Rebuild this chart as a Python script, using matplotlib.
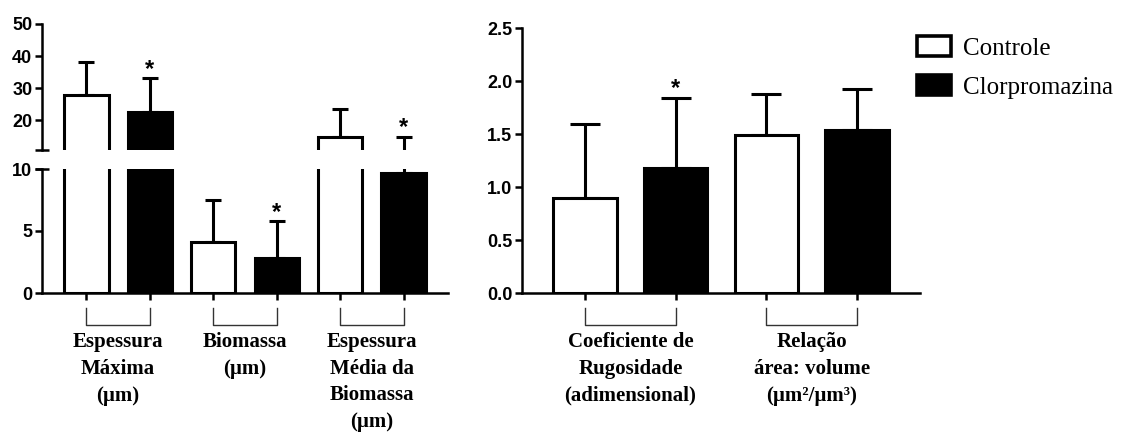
import numpy as np
import matplotlib.pyplot as plt
from matplotlib.patches import Patch
from matplotlib.transforms import blended_transform_factory

# Left panel: thickness / biomass (broken y axis)
left_groups = ["Espessura\nMáxima\n(µm)", "Biomassa\n(µm)", "Espessura\nMédia da\nBiomassa\n(µm)"]
left_controle = [27.8, 4.1, 14.6]
left_controle_sd = [10.2, 3.4, 8.8]
left_clor = [22.5, 2.8, 9.7]
left_clor_sd = [10.6, 3.0, 5.1]
left_star = [True, True, True]

# Right panel: roughness and area/volume ratio
right_groups = ["Coeficiente de\nRugosidade\n(adimensional)", "Relação\nárea: volume\n(µm²/µm³)"]
right_controle = [0.90, 1.49]
right_controle_sd = [0.70, 0.39]
right_clor = [1.185, 1.54]
right_clor_sd = [0.66, 0.385]
right_star = [True, False]

legend_labels = ["Controle", "Clorpromazina"]

LW = 2.2
W, H = 1131, 432

fig = plt.figure(figsize=(W / 100, H / 100), dpi=100)


def fig_box(x0, y0, x1, y1):
    # pixel box (top-left origin) -> figure fraction rect
    return [x0 / W, 1 - y1 / H, (x1 - x0) / W, (y1 - y0) / H]


ax_lo = fig.add_axes(fig_box(42, 169, 448, 293))
ax_hi = fig.add_axes(fig_box(42, 24, 448, 149.5))
ax_r = fig.add_axes(fig_box(522, 28.3, 920, 293.3))

tick_font = dict(family="Liberation Sans", weight="bold", size=13)
label_font = dict(family="Liberation Serif", weight="bold", size=15)


def draw_bars(ax, ctrl, ctrl_sd, clor, clor_sd, capsize):
    n = len(ctrl)
    xc = np.arange(n) * 2
    xk = xc + 1
    ax.bar(xc, ctrl, width=0.7, color="white", edgecolor="black", linewidth=LW, zorder=2)
    ax.bar(xk, clor, width=0.7, color="black", edgecolor="black", linewidth=LW, zorder=2)
    ax.errorbar(xc, ctrl, yerr=[np.zeros(n), ctrl_sd], fmt="none", ecolor="black",
                elinewidth=LW, capsize=capsize, capthick=LW, zorder=1)
    ax.errorbar(xk, clor, yerr=[np.zeros(n), clor_sd], fmt="none", ecolor="black",
                elinewidth=LW, capsize=capsize, capthick=LW, zorder=1)
    return xc, xk


def style_axis(ax):
    for s in ["top", "right"]:
        ax.spines[s].set_visible(False)
    for s in ["left", "bottom"]:
        ax.spines[s].set_linewidth(1.8)
    ax.tick_params(axis="both", direction="out", length=5, width=1.8, pad=2)
    for lab in ax.get_yticklabels():
        lab.set_fontproperties(tick_font)


def add_stars(ax, xs, tops, flags):
    for x, t, f in zip(xs, tops, flags):
        if f:
            ax.annotate("*", (x, t), xytext=(0, -2), textcoords="offset points",
                        ha="center", va="bottom", fontsize=17, fontweight="bold",
                        family="Liberation Sans")


def add_brackets(ax, xs_c, xs_k, labels):
    tr = blended_transform_factory(ax.transData, fig.transFigure)
    y_top, y_bot = 1 - 308 / H, 1 - 325 / H
    for a, b, lab in zip(xs_c, xs_k, labels):
        ax.plot([a, a, b, b], [y_top, y_bot, y_bot, y_top], color="#333333",
                lw=1.0, transform=tr, clip_on=False)
        ax.text((a + b) / 2, 1 - 332 / H, lab, transform=tr, ha="center", va="top",
                linespacing=1.45, **label_font)


# left panel, lower and upper segments share the same bars
for ax in (ax_lo, ax_hi):
    xc, xk = draw_bars(ax, left_controle, left_controle_sd, left_clor, left_clor_sd, 6)
    ax.set_xlim(-0.7, 5.7)

ax_lo.set_ylim(0, 10)
ax_lo.set_yticks([0, 5, 10])
ax_lo.set_xticks(np.sort(np.concatenate([xc, xk])))
ax_lo.set_xticklabels([])
style_axis(ax_lo)

ax_hi.set_ylim(10.8, 50)
ax_hi.set_yticks([20, 30, 40, 50])
ax_hi.set_xticks([])
style_axis(ax_hi)
ax_hi.spines["bottom"].set_visible(False)

# small caps on both sides of the axis break
for ax, yv in ((ax_lo, 10), (ax_hi, 10.8)):
    tr = blended_transform_factory(ax.transAxes, ax.transData)
    ax.plot([0], [yv], marker="_", markersize=10, mew=1.8, color="black",
            transform=tr, clip_on=False)

left_tops_k = np.array(left_clor) + np.array(left_clor_sd)
for x, t, f in zip(xk, left_tops_k, left_star):
    add_stars(ax_hi if t > 10.8 else ax_lo, [x], [t], [f])

add_brackets(ax_lo, xc, xk, left_groups)

# right panel
xc_r, xk_r = draw_bars(ax_r, right_controle, right_controle_sd, right_clor, right_clor_sd, 10.5)
ax_r.set_xlim(-0.695, 3.695)
ax_r.set_ylim(0, 2.5)
ax_r.set_yticks([0.0, 0.5, 1.0, 1.5, 2.0, 2.5])
ax_r.set_yticklabels([f"{v:.1f}" for v in [0.0, 0.5, 1.0, 1.5, 2.0, 2.5]])
ax_r.set_xticks(np.sort(np.concatenate([xc_r, xk_r])))
ax_r.set_xticklabels([])
style_axis(ax_r)
add_stars(ax_r, xk_r, np.array(right_clor) + np.array(right_clor_sd), right_star)
add_brackets(ax_r, xc_r, xk_r, right_groups)

handles = [Patch(facecolor="white", edgecolor="black", linewidth=2.6),
           Patch(facecolor="black", edgecolor="black", linewidth=2.6)]
fig.legend(handles, legend_labels, loc="upper left", bbox_to_anchor=(917 / W, 1 - 36 / H),
           frameon=False, borderpad=0, borderaxespad=0, handlelength=1.35,
           handleheight=0.85, handletextpad=0.5, labelspacing=0.62,
           prop=dict(family="Liberation Serif", size=18))

fig.savefig("out.png", dpi=100)
